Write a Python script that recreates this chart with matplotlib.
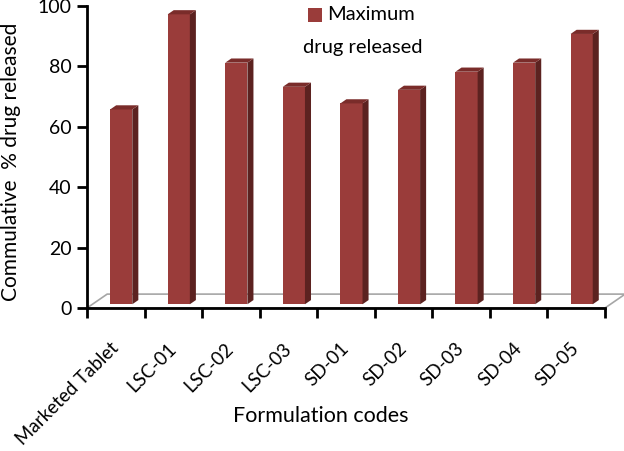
import matplotlib.pyplot as plt
from matplotlib.patches import Polygon, Rectangle
import numpy as np

# data
codes = ["Marketed Tablet", "LSC-01", "LSC-02", "LSC-03", "SD-01",
         "SD-02", "SD-03", "SD-04", "SD-05"]
max_release = [64.5, 96, 80, 72, 66.5, 71, 77, 80, 89.5]
y_ticks = [0, 20, 40, 60, 80, 100]

FRONT = "#9A3C3A"
SIDE = "#5C2220"
TOP = "#7A2C2A"
FLOOR_EDGE = "#A6A6A6"

plt.rcParams['font.family'] = ['Lato', 'DejaVu Sans']

fig = plt.figure(figsize=(6.24, 4.51), dpi=100)
ax = fig.add_axes([87/624, 143/451, 518/624, 302/451])
ax.set_xlim(-0.5, len(codes) - 0.5)
ax.set_ylim(0, 100)

# fake 3d: floor depth in data units
depth_x, depth_y = 0.35, 4.6
f0, f1 = 0.27, 0.57   # bar front/back depth fraction
bar_w = 0.385

# floor
floor = Polygon([(-0.5, 0), (len(codes) - 0.5, 0),
                 (len(codes) - 0.5 + depth_x, depth_y), (-0.5 + depth_x, depth_y)],
                closed=True, facecolor="white", edgecolor=FLOOR_EDGE, lw=1.2,
                clip_on=False, zorder=1)
ax.add_patch(floor)

for i, v in enumerate(max_release):
    x0 = i - bar_w / 2 + f0 * depth_x
    y0 = f0 * depth_y
    ddx = (f1 - f0) * depth_x
    ddy = (f1 - f0) * depth_y
    ax.add_patch(Rectangle((x0, y0), bar_w, v, facecolor=FRONT, edgecolor="none", zorder=3))
    ax.add_patch(Polygon([(x0 + bar_w, y0), (x0 + bar_w + ddx, y0 + ddy),
                          (x0 + bar_w + ddx, y0 + v + ddy), (x0 + bar_w, y0 + v)],
                         closed=True, facecolor=SIDE, edgecolor="none", zorder=3))
    ax.add_patch(Polygon([(x0, y0 + v), (x0 + bar_w, y0 + v),
                          (x0 + bar_w + ddx, y0 + v + ddy), (x0 + ddx, y0 + v + ddy)],
                         closed=True, facecolor=TOP, edgecolor="none", zorder=3))

for s in ["top", "right"]:
    ax.spines[s].set_visible(False)
for s in ["left", "bottom"]:
    ax.spines[s].set_linewidth(2)
    ax.spines[s].set_zorder(5)

ax.set_yticks(y_ticks)
ax.tick_params(axis="y", length=7, width=2, labelsize=14, pad=4)

# ticks at category boundaries, labels at centers
ax.set_xticks(np.arange(len(codes) + 1) - 0.5)
ax.set_xticklabels([])
ax.tick_params(axis="x", which="major", length=7, width=2)
ax.set_xticks(np.arange(len(codes)), minor=True)
ax.set_xticklabels(codes, minor=True, rotation=45, ha="right", va="center",
                   rotation_mode="anchor", fontsize=13.5)
ax.tick_params(axis="x", which="minor", length=0, pad=27)

fig.text(11/624, 1 - 162/451, "Commulative  % drug released", rotation=90,
         ha="center", va="center", fontsize=15)
fig.text(321/624, 1 - 416/451, "Formulation codes", ha="center", va="center", fontsize=15.5)

# legend (wrapped like the original)
fig.patches.append(Rectangle((308/624, 1 - 22/451), 14/624, 14/451, facecolor=FRONT,
                             edgecolor="none", transform=fig.transFigure))
fig.text(327/624, 1 - 15/451, "Maximum", ha="left", va="center", fontsize=14.5)
fig.text(303/624, 1 - 47/451, "drug released", ha="left", va="center", fontsize=14.5)

fig.savefig("out.png", dpi=100)
